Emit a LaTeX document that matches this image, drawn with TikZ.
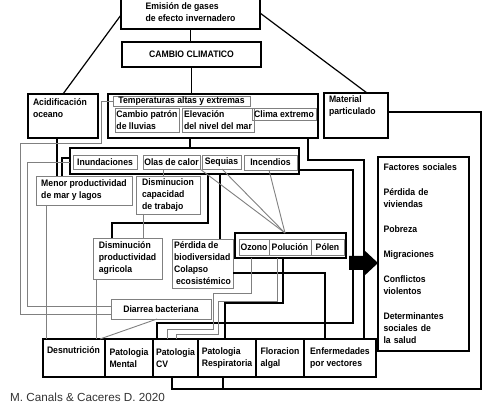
\documentclass[tikz,border=0pt]{standalone}
\usepackage{fontspec}
\setmainfont{Liberation Sans}
\newfontfamily\boxfont{Liberation Sans}[FakeStretch=0.92]

\tikzset{
  frame/.style={draw, line width=2pt, inner sep=0pt, outer sep=0pt, anchor=north west},
  blk/.style={draw, line width=1.4pt, inner sep=1pt, outer sep=0pt, anchor=north west, align=left},
  gry/.style={draw=gray, line width=0.9pt, inner sep=0.5pt, outer sep=0pt, anchor=north west, align=left},
  wire/.style={line width=1.8pt},
  gwire/.style={gray, line width=0.9pt},
}

\begin{document}
\begin{tikzpicture}[x=1pt,y=-1pt,font=\boxfont\bfseries\fontsize{9.4}{12}\selectfont]
  \useasboundingbox (0,0) rectangle (500,419);

  % causes
  \node[frame, align=left, minimum width=139, minimum height=34] (emis) at (121,-5) {Emisión de gases\\de efecto invernadero};
  \node[frame, minimum width=139, minimum height=25] (cambio) at (122,42) {CAMBIO CLIMATICO};

  \node[frame, minimum width=210, minimum height=44] (temp) at (108,94) {};
  \node[gry, minimum width=137, minimum height=10] (tempalt) at (113,96) {Temperaturas altas y extremas};
  \node[gry, minimum width=64, minimum height=24] (lluvia) at (115,108) {Cambio patrón\\de lluvias};
  \node[gry, minimum width=72, minimum height=24] (nivel) at (182,108) {Elevación\\del nivel del mar};
  \node[gry, minimum width=64, minimum height=12] (clima) at (252,108) {Clima extremo};

  \node[frame, line width=1.8pt, minimum width=70, minimum height=44] (acid) at (28,94) {\parbox[c][34pt][t]{60pt}{Acidificación\\oceano}};
  \node[blk, line width=1.3pt, minimum width=64, minimum height=45] (matpart) at (324,93) {\parbox[c][40pt][t]{54pt}{Material\\particulado}};

  % events
  \node[frame, minimum width=229, minimum height=26] (eventos) at (70,148) {};
  \node[gry, minimum width=64, minimum height=14] (inund) at (73,155) {Inundaciones};
  \node[gry, minimum width=57, minimum height=14] (olas) at (143,155) {Olas de calor};
  \node[gry, minimum width=39, minimum height=14] (sequia) at (202,155) {Sequias};
  \node[gry, minimum width=53, minimum height=15] (incendio) at (244,155) {Incendios};

  % effects
  \node[gry, minimum width=96, minimum height=29] (menor) at (36,176) {Menor productividad\\de mar y lagos};
  \node[gry, minimum width=64, minimum height=38] (capac) at (136,176) {Disminucion\\capacidad\\de trabajo};
  \node[gry, minimum width=69, minimum height=41] (agri) at (93,238) {Disminución\\productividad\\agricola};
  \node[gry, minimum width=61, minimum height=49] (biodiv) at (172,239) {Pérdida de\\biodiversidad\\Colapso\\\hspace{2pt}ecosistémico};

  \node[frame, minimum width=111, minimum height=25] (aire) at (235,233) {};
  \node[gry, minimum width=30, minimum height=16] (ozono) at (239,239) {Ozono};
  \node[gry, minimum width=42, minimum height=16] (polucion) at (269,239) {Polución};
  \node[gry, minimum width=33, minimum height=16] (polen) at (311,239) {Pólen};

  \node[gry, minimum width=100, minimum height=20, align=center] (diarrea) at (111,299) {Diarrea bacteriana};

  % health
  \node[blk, minimum width=62, minimum height=38] (desnut) at (43,339) {\parbox[c][22pt][t]{54pt}{Desnutrición}};
  \node[blk, minimum width=48, minimum height=38] (mental) at (105,339) {Patologia\\Mental};
  \node[blk, minimum width=45, minimum height=38] (cv) at (153,339) {Patologia\\CV};
  \node[blk, minimum width=58, minimum height=38] (resp) at (198,339) {Patologia\\Respiratoria};
  \node[blk, minimum width=48, minimum height=38] (algal) at (256,339) {Floracion\\algal};
  \node[blk, minimum width=72, minimum height=38] (vector) at (304,339) {Enfermedades\\por vectores};

  \node[blk, minimum width=91, minimum height=194, text width=80] (social) at (378,157) {Factores sociales\\[13pt]
    Pérdida de\\viviendas\\[13pt]
    Pobreza\\[13pt]
    Migraciones\\[13pt]
    Conflictos\\violentos\\[13pt]
    Determinantes\\sociales de\\la salud};

  \fill (349,256) -- (363,256) -- (363,249) -- (378,263) -- (363,277) -- (363,270) -- (349,270) -- cycle;

  \node[font=\normalfont\fontsize{11.7}{14}\selectfont, text=black!80, anchor=west, inner sep=0pt] (cita) at (10,397) {M. Canals \& Caceres D. 2020};

  % black connectors
  \draw[wire] (emis.south) -- (emis.south |- cambio.north);
  \draw[wire] (cambio.south) -- (cambio.south |- temp.north);
  \draw[line width=1.2pt] (emis.west |- 0,15) -- (acid.north -| 63,0);
  \draw[line width=1.2pt] (emis.east |- 0,13) -- (matpart.north -| 367,0);
  \draw[wire] (temp.south -| 190,0) -- (eventos.north -| 190,0);
  \draw[wire] (acid.south -| 57,0) -- (menor.north -| 57,0);
  \draw[wire] (eventos.west |- 0,158) -| (menor.north -| 62,0);
  \draw[wire] (eventos.south -| 208,0) -- (208,223) -| (agri.north -| 112,0);
  \draw[wire] (eventos.south -| 220,0) -- (biodiv.north -| 220,0);
  \draw[wire] (temp.south -| 308,0) -- (308,160) -| (vector.north -| 364,0);
  \draw[wire] (eventos.east |- 0,170) -| (353,323) -| (cv.north -| 157,0);
  \draw[wire] (aire.south -| 283,0) -- (283,303) -| (resp.north -| 225,0);
  \draw[wire] (biodiv.east |- 0,273) -| (vector.north -| 325,0);
  \draw[wire] (matpart.east |- 0,112) -| (481,389) -| (resp.south -| 223,0);
  \draw[wire] (cv.south -| 172,0) |- (223,389);

  % grey connectors
  \coordinate (airetop) at (aire.north -| 285,0);
  \draw[gwire] (olas.south east) -- (airetop);
  \draw[gwire] (sequia.south -| 222,0) -- (airetop);
  \draw[gwire] (incendio.south -| 269,0) -- (airetop);
  \draw[gwire] (olas.south -| 163,0) -- (capac.north -| 163,0);
  \draw[gwire] (capac.south -| 143,0) -- (agri.north -| 143,0);
  \draw[gwire] (aire.south -| 251,0) -- (251,293) -| (213,329) -| (cv.north -| 167,0);
  \draw[gwire] (aire.south -| 277,0) -- (277,301) -| (218,334) -| (cv.north -| 176,0);
  \draw[gwire] (tempalt.west) -- (101,101) |- (20,143) |- (diarrea.west |- 0,314);
  \draw[gwire] (eventos.west |- 0,162) -- (27,162) |- (diarrea.west |- 0,306);
  \draw[gwire] (diarrea.south -| 157,0) -- (desnut.north -| 100,0);
  \draw[gwire] (menor.south -| 46,0) -- (desnut.north -| 46,0);
  \draw[gwire] (agri.south -| 96,0) -- (desnut.north -| 96,0);
\end{tikzpicture}
\end{document}
